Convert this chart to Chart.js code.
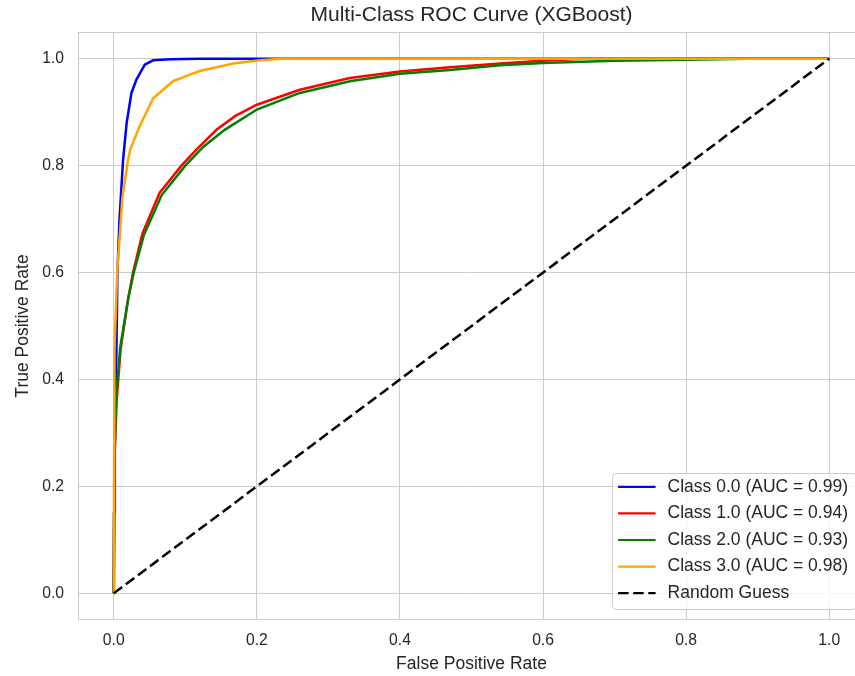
<!DOCTYPE html>
<html>
<head>
<meta charset="utf-8">
<title>Multi-Class ROC Curve (XGBoost)</title>
<script src="https://cdn.jsdelivr.net/npm/chart.js@4.4.1/dist/chart.umd.min.js"></script>
<style>
  html, body { margin: 0; padding: 0; background: #fff; overflow: hidden; }
  #wrap { width: 866px; height: 676px; }
</style>
</head>
<body>
<div id="wrap"><canvas id="roc" width="866" height="676"></canvas></div>
<script>
// per-class ROC results
const classNames = ['Class 0.0', 'Class 1.0', 'Class 2.0', 'Class 3.0'];
const aucScores = [0.99, 0.94, 0.93, 0.98];

const class0Fpr = [0, 0.0005, 0.0015, 0.0037, 0.0051, 0.008, 0.013, 0.018, 0.0247, 0.0317, 0.0433, 0.055, 0.08, 0.12, 1.0];
const class0Tpr = [0, 0.15, 0.30, 0.455, 0.60, 0.70, 0.811, 0.88, 0.936, 0.961, 0.989, 0.997, 0.999, 1.0, 1.0];

const class1Fpr = [0, 0.0005, 0.0014, 0.004, 0.0094, 0.02, 0.027, 0.04, 0.064, 0.0946, 0.1155, 0.1435, 0.17, 0.2, 0.26, 0.33, 0.4, 0.47, 0.54, 0.6, 0.656, 1.0];
const class1Tpr = [0, 0.15, 0.268, 0.36, 0.455, 0.55, 0.60, 0.673, 0.749, 0.80, 0.83, 0.867, 0.893, 0.914, 0.942, 0.964, 0.976, 0.984, 0.991, 0.996, 1.0, 1.0];

const class2Fpr = [0, 0.0005, 0.0012, 0.0035, 0.009, 0.02, 0.028, 0.042, 0.067, 0.1, 0.125, 0.155, 0.2, 0.26, 0.33, 0.4, 0.47, 0.54, 0.6, 0.7, 0.8, 0.89, 1.0];
const class2Tpr = [0, 0.15, 0.27, 0.37, 0.46, 0.55, 0.60, 0.67, 0.745, 0.80, 0.835, 0.867, 0.905, 0.936, 0.958, 0.972, 0.979, 0.988, 0.992, 0.996, 0.998, 1.0, 1.0];

const class3Fpr = [0, 0.0003, 0.001, 0.0047, 0.01, 0.012, 0.02, 0.023, 0.036, 0.055, 0.083, 0.12, 0.167, 0.204, 0.236, 1.0];
const class3Tpr = [0, 0.20, 0.455, 0.60, 0.70, 0.74, 0.811, 0.83, 0.873, 0.926, 0.958, 0.977, 0.991, 0.997, 1.0, 1.0];

const chanceFpr = [0, 1];
const chanceTpr = [0, 1];

const axisTicks = [0, 0.2, 0.4, 0.6, 0.8, 1.0];

const lineColors = ['blue', 'red', 'green', 'orange'];
const fprs = [class0Fpr, class1Fpr, class2Fpr, class3Fpr];
const tprs = [class0Tpr, class1Tpr, class2Tpr, class3Tpr];

const toPoints = (xs, ys) => xs.map((x, i) => ({ x: x, y: ys[i] }));

const FONT = '"Liberation Sans", Arial, sans-serif';
const TEXT = '#262626';
const GRID = '#cccccc';

Chart.defaults.font.family = FONT;
Chart.defaults.color = TEXT;

// later classes are drawn over earlier ones, the diagonal over everything
const datasets = classNames.map((name, i) => ({
  label: `${name} (AUC = ${aucScores[i].toFixed(2)})`,
  data: toPoints(fprs[i], tprs[i]),
  borderColor: lineColors[i],
  borderWidth: 2.5,
  order: 5 - i
}));
datasets.push({
  label: 'Random Guess',
  data: toPoints(chanceFpr, chanceTpr),
  borderColor: '#000000',
  borderWidth: 2.5,
  borderDash: [10.5, 4.6],
  order: 0
});
datasets.forEach(d => {
  d.showLine = true;
  d.pointRadius = 0;
  d.pointHoverRadius = 0;
  d.tension = 0;
  d.fill = false;
});

// light frame round the plot area
const plotFrame = {
  id: 'plotFrame',
  beforeDatasetsDraw(chart) {
    const { ctx, chartArea: a } = chart;
    ctx.save();
    ctx.strokeStyle = GRID;
    ctx.lineWidth = 1;
    ctx.strokeRect(Math.round(a.left) + 0.5, Math.round(a.top) + 0.5,
      Math.round(a.right - a.left) - 1, Math.round(a.bottom - a.top) - 1);
    ctx.restore();
  }
};

// legend box in the lower right corner of the plot
const legendBox = {
  id: 'legendBox',
  afterDraw(chart) {
    const { ctx, chartArea: a } = chart;
    const sets = chart.data.datasets;
    ctx.save();
    ctx.font = '17.5px ' + FONT;
    const textW = Math.max(...sets.map(d => ctx.measureText(d.label).width));
    const rowH = 26.6;
    const w = 56 + textW + 8;
    const h = rowH * sets.length + 3;
    const right = a.right - 9;
    const bottom = a.bottom - 11.5;
    const left = right - w;
    const top = bottom - h;

    ctx.beginPath();
    ctx.roundRect(Math.round(left) + 0.5, Math.round(top) + 0.5, w, h, 4);
    ctx.fillStyle = 'rgba(255,255,255,0.8)';
    ctx.fill();
    ctx.strokeStyle = GRID;
    ctx.lineWidth = 1;
    ctx.stroke();

    sets.forEach((d, i) => {
      const y = top + 14.3 + i * rowH;
      ctx.beginPath();
      ctx.setLineDash(d.borderDash || []);
      ctx.strokeStyle = d.borderColor;
      ctx.lineWidth = 2.2;
      ctx.moveTo(left + 6.5, y);
      ctx.lineTo(left + 44, y);
      ctx.stroke();
      ctx.setLineDash([]);
      ctx.fillStyle = TEXT;
      ctx.textBaseline = 'middle';
      ctx.textAlign = 'left';
      ctx.fillText(d.label, left + 56, y);
    });
    ctx.restore();
  }
};

new Chart(document.getElementById('roc'), {
  type: 'scatter',
  data: { datasets: datasets },
  options: {
    responsive: false,
    animation: false,
    events: [],
    layout: { padding: { left: 0, right: 1, top: 0, bottom: 0 } },
    plugins: {
      legend: { display: false },
      tooltip: { enabled: false },
      title: {
        display: true,
        text: 'Multi-Class ROC Curve (XGBoost)',
        fullSize: false,
        color: TEXT,
        font: { size: 21, weight: 'normal' },
        padding: { top: 3, bottom: 3.8 }
      }
    },
    scales: {
      x: {
        type: 'linear',
        min: -0.05,
        max: 1.05,
        afterBuildTicks: s => { s.ticks = axisTicks.map(v => ({ value: v })); },
        afterFit: s => { s.height = 56; },
        grid: { color: GRID, lineWidth: 1, drawTicks: false },
        border: { display: false },
        ticks: {
          padding: 11,
          color: TEXT,
          font: { size: 15.7 },
          maxRotation: 0,
          callback: v => v.toFixed(1)
        },
        title: {
          display: true,
          text: 'False Positive Rate',
          color: TEXT,
          font: { size: 17.5 },
          padding: { top: 0, bottom: 1.5 }
        }
      },
      y: {
        type: 'linear',
        min: -0.05,
        max: 1.05,
        afterBuildTicks: s => { s.ticks = axisTicks.map(v => ({ value: v })); },
        afterFit: s => { s.width = 78; },
        grid: { color: GRID, lineWidth: 1, drawTicks: false },
        border: { display: false },
        ticks: {
          padding: 14,
          color: TEXT,
          font: { size: 15.7 },
          callback: v => v.toFixed(1)
        },
        title: {
          display: true,
          text: 'True Positive Rate',
          color: TEXT,
          font: { size: 17.5 },
          padding: { top: 13, bottom: 0 }
        }
      }
    }
  },
  plugins: [plotFrame, legendBox]
});
</script>
</body>
</html>
